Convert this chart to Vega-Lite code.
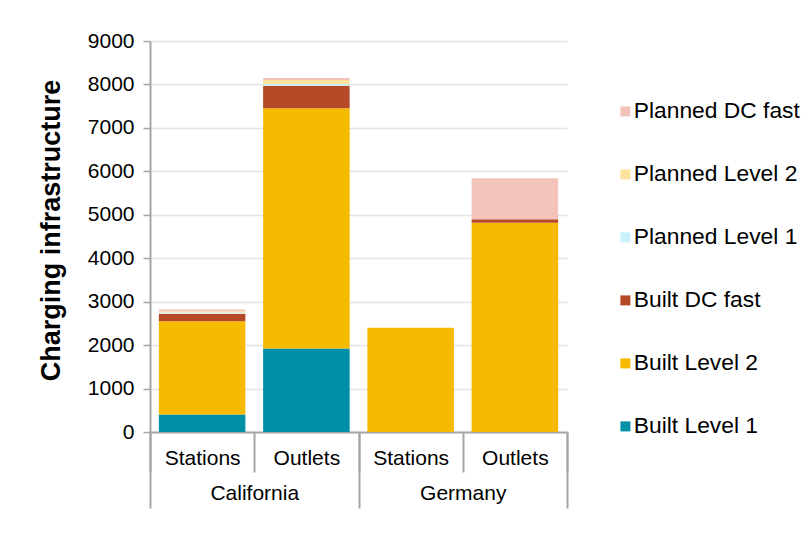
{
  "$schema": "https://vega.github.io/schema/vega-lite/v6.json",
  "width": 417,
  "height": 391,
  "autosize": {"type": "none"},
  "padding": {"left": 150, "top": 41, "right": 242, "bottom": 121},
  "background": "white",
  "config": {
    "font": "Liberation Sans",
    "view": {"stroke": null}
  },
  "datasets": {
    "infra": [
      {"column": "California|Stations", "category": "Built Level 1", "count": 400},
      {"column": "California|Stations", "category": "Built Level 2", "count": 2150},
      {"column": "California|Stations", "category": "Built DC fast", "count": 170},
      {"column": "California|Stations", "category": "Planned Level 1", "count": 30},
      {"column": "California|Stations", "category": "Planned Level 2", "count": 30},
      {"column": "California|Stations", "category": "Planned DC fast", "count": 40},
      {"column": "California|Outlets", "category": "Built Level 1", "count": 1920},
      {"column": "California|Outlets", "category": "Built Level 2", "count": 5530},
      {"column": "California|Outlets", "category": "Built DC fast", "count": 520},
      {"column": "California|Outlets", "category": "Planned Level 1", "count": 40},
      {"column": "California|Outlets", "category": "Planned Level 2", "count": 90},
      {"column": "California|Outlets", "category": "Planned DC fast", "count": 50},
      {"column": "Germany|Stations", "category": "Built Level 2", "count": 2400},
      {"column": "Germany|Outlets", "category": "Built Level 2", "count": 4815},
      {"column": "Germany|Outlets", "category": "Built DC fast", "count": 80},
      {"column": "Germany|Outlets", "category": "Planned DC fast", "count": 945}
    ],
    "categories": [
      {"category": "Built Level 1", "level": 1},
      {"category": "Built Level 2", "level": 2},
      {"category": "Built DC fast", "level": 3},
      {"category": "Planned Level 1", "level": 4},
      {"category": "Planned Level 2", "level": 5},
      {"category": "Planned DC fast", "level": 6}
    ],
    "regions": [
      {"country": "California"},
      {"country": "Germany"}
    ]
  },
  "layer": [
    {
      "data": {"name": "infra"},
      "transform": [
        {"lookup": "category", "from": {"data": {"name": "categories"}, "key": "category", "fields": ["level"]}}
      ],
      "mark": {"type": "bar", "width": {"band": 0.83}},
      "encoding": {
        "x": {
          "field": "column",
          "type": "nominal",
          "sort": ["California|Stations", "California|Outlets", "Germany|Stations", "Germany|Outlets"],
          "scale": {"paddingInner": 0, "paddingOuter": 0},
          "axis": {
            "title": null,
            "orient": "bottom",
            "tickBand": "extent",
            "tickSize": 40,
            "tickColor": "#A6A6A6",
            "tickWidth": 2,
            "domainColor": "#A6A6A6",
            "domainWidth": 2,
            "labelFontSize": 21,
            "labelColor": "#000000",
            "labelAngle": 0,
            "labelPadding": -25,
            "labelExpr": "split(datum.label, '|')[1]"
          }
        },
        "y": {
          "field": "count",
          "type": "quantitative",
          "stack": "zero",
          "scale": {"domain": [0, 9000], "nice": false},
          "axis": {
            "title": "Charging infrastructure",
            "titleFontSize": 27,
            "titleFontWeight": "bold",
            "titleColor": "#000000",
            "titlePadding": 22,
            "titleY": 189,
            "values": [0, 1000, 2000, 3000, 4000, 5000, 6000, 7000, 8000, 9000],
            "format": "d",
            "labelFontSize": 21,
            "labelColor": "#000000",
            "labelPadding": 9,
            "labelFlush": false,
            "tickSize": 7,
            "tickColor": "#A6A6A6",
            "tickWidth": 1.5,
            "domainColor": "#A6A6A6",
            "domainWidth": 2,
            "gridColor": "#E2E2E2",
            "gridWidth": 1.5
          }
        },
        "order": {"field": "level", "type": "quantitative", "sort": "ascending"},
        "color": {
          "field": "category",
          "type": "nominal",
          "scale": {
            "domain": ["Built Level 1", "Built Level 2", "Built DC fast", "Planned Level 1", "Planned Level 2", "Planned DC fast"],
            "range": ["#028FA8", "#F6BB00", "#B64A28", "#C8F1FA", "#FEE39E", "#F2C4B9"]
          },
          "legend": {
            "title": null,
            "orient": "none",
            "legendX": 464,
            "legendY": 59,
            "padding": 0,
            "values": ["Planned DC fast", "Planned Level 2", "Planned Level 1", "Built DC fast", "Built Level 2", "Built Level 1"],
            "symbolType": "square",
            "symbolSize": 100,
            "symbolStrokeWidth": 0,
            "labelFontSize": 22.8,
            "labelColor": "#000000",
            "labelOffset": -3,
            "labelLimit": 300,
            "rowPadding": 39
          }
        }
      }
    },
    {
      "data": {"name": "regions"},
      "mark": {"type": "point", "opacity": 0},
      "encoding": {
        "x": {
          "field": "country",
          "type": "nominal",
          "sort": ["California", "Germany"],
          "scale": {"type": "band", "paddingInner": 0, "paddingOuter": 0},
          "axis": {
            "title": null,
            "orient": "bottom",
            "tickBand": "extent",
            "tickSize": 76,
            "tickColor": "#A6A6A6",
            "tickWidth": 2,
            "domain": false,
            "labelFontSize": 21,
            "labelColor": "#000000",
            "labelAngle": 0,
            "labelPadding": -26
          }
        }
      }
    }
  ],
  "resolve": {"scale": {"x": "independent"}, "axis": {"x": "independent"}}
}
